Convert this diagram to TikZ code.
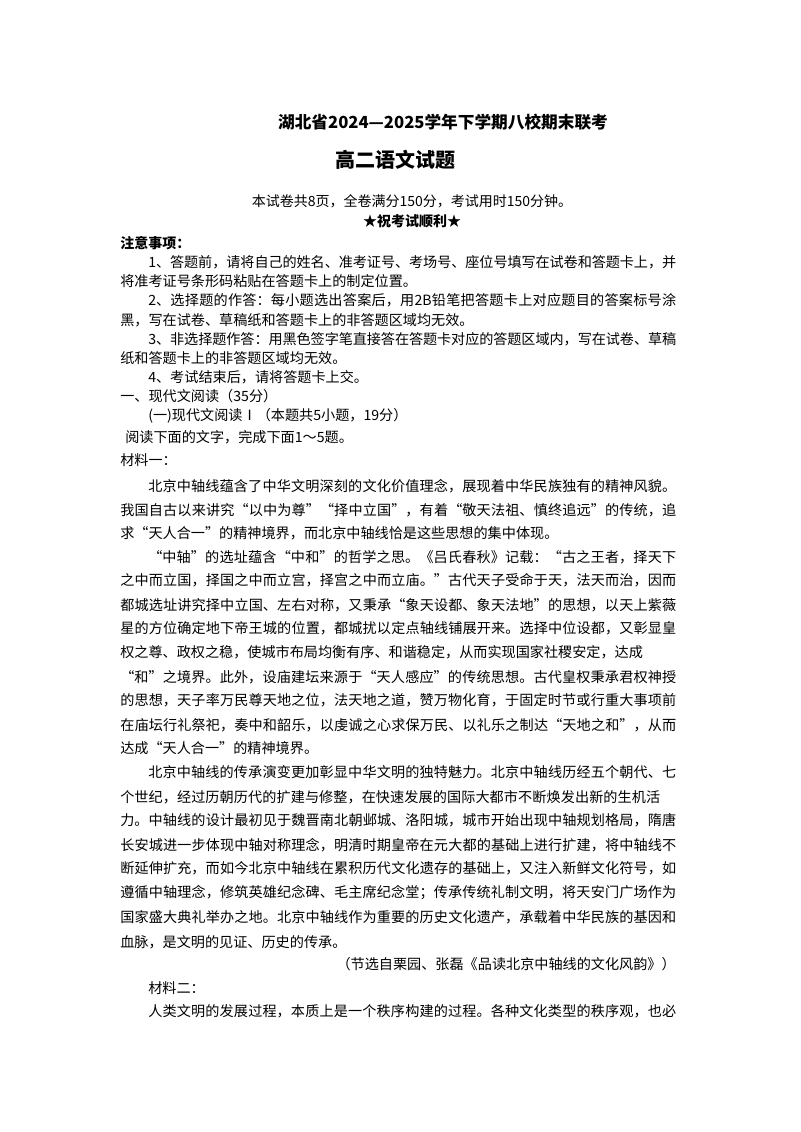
\documentclass[tikz,border=0pt]{standalone}
\usepackage{fontspec}
\setmainfont{Noto Sans CJK SC}
\XeTeXlinebreaklocale "zh"
\XeTeXlinebreakskip=0pt plus 3pt minus 0.3pt
\tikzset{
 ln/.style={anchor=west,inner sep=0pt,font=\fontsize{10.6}{13}\selectfont},
 jl/.style={ln,text width=#1,align=justify,execute at begin node={\parfillskip=0pt\relax}},
 ctr/.style={anchor=center,inner sep=0pt}
}
\newcommand\JLine[4]{\node[jl=#3] (#1) at (#2) {#4};}
\newcommand\LLine[3]{\node[ln] (#1) at (#2) {#3};}
\begin{document}
\begin{tikzpicture}[x=0.75pt,y=-0.75pt]
\fill[white] (0,0) rectangle (800,1132);
\useasboundingbox (0,0) rectangle (800,1132);
\node[ctr,font=\fontsize{12.5}{16}\selectfont\bfseries] (t1) at (443,122) {湖北省2024—2025学年下学期八校期末联考};
\node[ctr,font=\fontsize{15}{18}\selectfont\bfseries] (t2) at (395,160) {高二语文试题};
\node[ctr,font=\fontsize{10.5}{13}\selectfont] (t3) at (412,201) {本试卷共8页，全卷满分150分，考试用时150分钟。};
\node[ctr,font=\fontsize{10.5}{13}\selectfont\bfseries] (t4) at (412,221) {★祝考试顺利★};
\node[ln,font=\fontsize{10.5}{13}\selectfont\bfseries] (n0) at (120,243) {注意事项：};
\JLine{n1}{148,262}{396pt}{1、答题前，请将自己的姓名、准考证号、考场号、座位号填写在试卷和答题卡上，并}
\LLine{n1b}{120,281}{将准考证号条形码粘贴在答题卡上的制定位置。}
\JLine{n2}{148,300}{396pt}{2、选择题的作答：每小题选出答案后，用2B铅笔把答题卡上对应题目的答案标号涂}
\LLine{n2b}{120,320}{黑，写在试卷、草稿纸和答题卡上的非答题区域均无效。}
\JLine{n3}{148,339}{396pt}{3、非选择题作答：用黑色签字笔直接答在答题卡对应的答题区域内，写在试卷、草稿}
\LLine{n3b}{120,358}{纸和答题卡上的非答题区域均无效。}
\LLine{n4}{148,377}{4、考试结束后，请将答题卡上交。}
\LLine{s1}{120,396}{一、现代文阅读（35分）}
\LLine{s2}{148,416}{(一)现代文阅读Ⅰ（本题共5小题，19分）}
\LLine{s3}{125,437}{阅读下面的文字，完成下面1～5题。}
\LLine{s4}{120,460}{材料一：}
\JLine{p1}{148,486}{396pt}{北京中轴线蕴含了中华文明深刻的文化价值理念，展现着中华民族独有的精神风貌。}
\JLine{p2}{120,510}{417pt}{我国自古以来讲究“以中为尊”“择中立国”，有着“敬天法祖、慎终追远”的传统，追}
\LLine{p3}{120,533}{求“天人合一”的精神境界，而北京中轴线恰是这些思想的集中体现。}
\JLine{p4}{148,557}{396pt}{“中轴”的选址蕴含“中和”的哲学之思。《吕氏春秋》记载：“古之王者，择天下}
\JLine{p5}{120,580}{417pt}{之中而立国，择国之中而立宫，择宫之中而立庙。”古代天子受命于天，法天而治，因而}
\JLine{p6}{120,605}{417pt}{都城选址讲究择中立国、左右对称，又秉承“象天设都、象天法地”的思想，以天上紫薇}
\JLine{p7}{120,628}{417pt}{星的方位确定地下帝王城的位置，都城扰以定点轴线铺展开来。选择中位设都，又彰显皇}
\JLine{p8}{120,652}{392pt}{权之尊、政权之稳，使城市布局均衡有序、和谐稳定，从而实现国家社稷安定，达成}
\JLine{p9}{120,677}{417pt}{“和”之境界。此外，设庙建坛来源于“天人感应”的传统思想。古代皇权秉承君权神授}
\JLine{p10}{120,700}{417pt}{的思想，天子率万民尊天地之位，法天地之道，赞万物化育，于固定时节或行重大事项前}
\JLine{p11}{120,725}{417pt}{在庙坛行礼祭祀，奏中和韶乐，以虔诚之心求保万民、以礼乐之制达“天地之和”，从而}
\LLine{p12}{120,748}{达成“天人合一”的精神境界。}
\JLine{q1}{148,772}{396pt}{北京中轴线的传承演变更加彰显中华文明的独特魅力。北京中轴线历经五个朝代、七}
\JLine{q2}{120,797}{405pt}{个世纪，经过历朝历代的扩建与修整，在快速发展的国际大都市不断焕发出新的生机活}
\JLine{q3}{120,820}{417pt}{力。中轴线的设计最初见于魏晋南北朝邺城、洛阳城，城市开始出现中轴规划格局，隋唐}
\JLine{q4}{120,845}{417pt}{长安城进一步体现中轴对称理念，明清时期皇帝在元大都的基础上进行扩建，将中轴线不}
\JLine{q5}{120,868}{417pt}{断延伸扩充，而如今北京中轴线在累积历代文化遗存的基础上，又注入新鲜文化符号，如}
\JLine{q6}{120,893}{417pt}{遵循中轴理念，修筑英雄纪念碑、毛主席纪念堂；传承传统礼制文明，将天安门广场作为}
\JLine{q7}{120,917}{417pt}{国家盛大典礼举办之地。北京中轴线作为重要的历史文化遗产，承载着中华民族的基因和}
\LLine{q8}{120,942}{血脉，是文明的见证、历史的传承。}
\node[ln,anchor=east] (src) at (676,964) {（节选自栗园、张磊《品读北京中轴线的文化风韵》）};
\LLine{m2}{148,988}{材料二：}
\JLine{r1}{148,1011}{396pt}{人类文明的发展过程，本质上是一个秩序构建的过程。各种文化类型的秩序观，也必}
\end{tikzpicture}
\end{document}
